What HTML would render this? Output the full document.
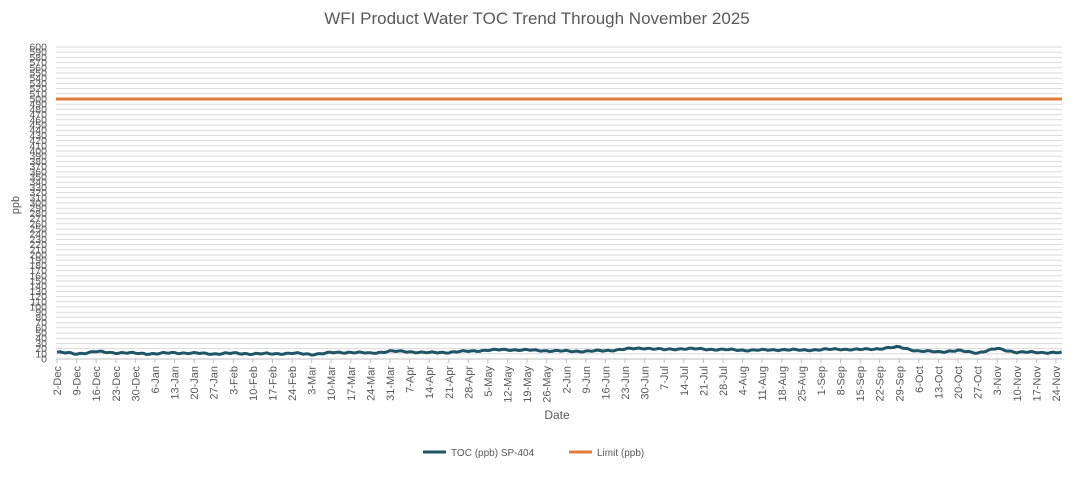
<!DOCTYPE html>
<html><head><meta charset="utf-8"><style>
body{margin:0;background:#fff;}
svg text{font-family:"Liberation Sans",sans-serif;}
</style></head><body>
<svg id="c" width="1074" height="472" xmlns="http://www.w3.org/2000/svg">
<rect width="1074" height="472" fill="#fff"/>
<text x="537" y="24" text-anchor="middle" font-size="17" fill="#595959">WFI Product Water TOC Trend Through November 2025</text>
<g id="grid"></g>
<g id="ylab" font-size="10.5" fill="#595959" text-anchor="end"></g>
<g id="xlab" font-size="11" fill="#595959"></g>
<line x1="56" y1="99" x2="1062" y2="99" stroke="#e07b39" stroke-width="3"/>
<polyline id="toc" fill="none" stroke="#1f5566" stroke-width="3" stroke-linejoin="round"/>
<text x="19" y="205" font-size="11" fill="#595959" text-anchor="middle" transform="rotate(-90 19 205)">ppb</text>
<text x="557" y="419" font-size="12" fill="#595959" text-anchor="middle">Date</text>
<line x1="423" y1="452" x2="446" y2="452" stroke="#1f5566" stroke-width="3"/>
<text x="451" y="456" font-size="10" fill="#595959">TOC (ppb) SP-404</text>
<line x1="569" y1="452" x2="592" y2="452" stroke="#e07b39" stroke-width="3"/>
<text x="597" y="456" font-size="10" fill="#595959">Limit (ppb)</text>
</svg>
<script>
var ns="http://www.w3.org/2000/svg";
function el(t,a,p,txt){var e=document.createElementNS(ns,t);for(var k in a)e.setAttribute(k,a[k]);if(txt!==undefined)e.textContent=txt;document.getElementById(p).appendChild(e);}
var y0=359,sc=312/600;
for(var v=0;v<=600;v+=10){var y=y0-v*sc;
 if(v>0)el("line",{x1:56,x2:1062,y1:y,y2:y,stroke:"#d9d9d9","stroke-width":1},"grid");
 el("text",{x:47,y:y+3.5},"ylab",String(v));}
el("line",{x1:56,x2:1062,y1:y0,y2:y0,stroke:"#bfbfbf","stroke-width":1},"grid");
var labs=["2-Dec","9-Dec","16-Dec","23-Dec","30-Dec","6-Jan","13-Jan","20-Jan","27-Jan","3-Feb","10-Feb","17-Feb","24-Feb","3-Mar","10-Mar","17-Mar","24-Mar","31-Mar","7-Apr","14-Apr","21-Apr","28-Apr","5-May","12-May","19-May","26-May","2-Jun","9-Jun","16-Jun","23-Jun","30-Jun","7-Jul","14-Jul","21-Jul","28-Jul","4-Aug","11-Aug","18-Aug","25-Aug","1-Sep","8-Sep","15-Sep","22-Sep","29-Sep","6-Oct","13-Oct","20-Oct","27-Oct","3-Nov","10-Nov","17-Nov","24-Nov"];
var x0=57,dx=(1056-57)/51;
labs.forEach(function(l,i){var x=x0+i*dx;
 el("line",{x1:x,x2:x,y1:y0,y2:y0+4,stroke:"#bfbfbf"},"grid");
 el("text",{x:0,y:0,"text-anchor":"end",transform:"translate("+(x+4)+","+(y0+7)+") rotate(-90)"},"xlab",l);});
var w=[13,10,14,12,11,10,12,11,10,11,10,10,11,9,12,13,11,15,14,12,13,15,17,18,17,16,15,15,16,19,21,18,20,19,18,17,17,18,17,18,19,18,20,23,15,14,16,12,20,13,13,12,13];
var pts=[],n=359;
for(var d=0;d<=n;d++){var f=d/7,i=Math.floor(f),t=f-i;var a=w[i],b=w[Math.min(i+1,w.length-1)];
 var v=a+(b-a)*t+Math.sin(d*1.7)*1.0+Math.sin(d*0.53)*0.8;
 pts.push((x0+f*dx).toFixed(1)+","+(y0-v*sc).toFixed(1));}
document.getElementById("toc").setAttribute("points",pts.join(" "));
</script>
</body></html>
